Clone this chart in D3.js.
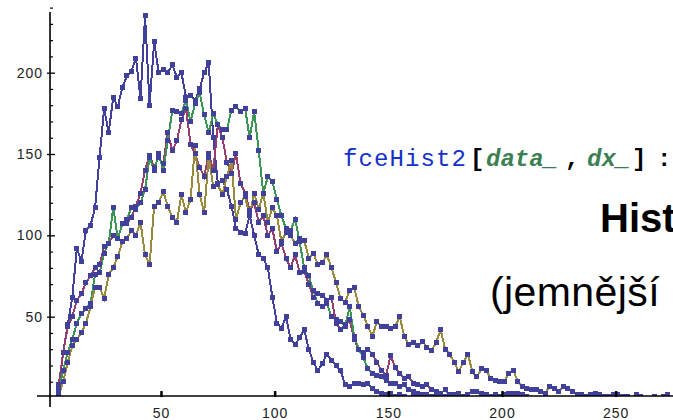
<!DOCTYPE html>
<html><head><meta charset="utf-8">
<script src="https://cdn.jsdelivr.net/npm/d3@7"></script>
<style>html,body{margin:0;padding:0;background:#fff}svg{display:block}</style>
</head><body>
<script>
// bin positions (x) and histogram counts
const binX = d3.range(5, 274, 2);
const seriesBlue = [
  6,28,45,62,92,84,103,106,117,148,
  178,163,185,179,191,198,201,209,184,235,
  180,219,200,202,200,205,197,200,185,186,
  183,190,200,206,160,132,134,128,118,104,
  102,101,112,100,88,86,80,62,46,43,
  50,36,33,37,42,30,22,17,21,27,
  23,20,17,8,7,9,9,8,9,6,
  4,3,2,3,1,2,1,0,1,0,
  0,1,0,0,0,1,0,0,0,0,
  0,0,0,0,0,0,0,0,0,0,
  0,0,0,0,0,0,0,0,0,0,
  0,0,0,0,0,0,0,0,0,0,
  0,0,0,0,0,0,0,0,0,0,
  0,0,0,0,0];
const seriesPurple = [
  8,28,44,50,60,64,71,75,80,82,
  93,95,100,98,107,107,111,118,126,140,
  149,142,148,144,163,152,158,171,178,156,
  150,142,136,150,140,168,160,145,138,150,
  132,126,115,120,108,112,100,104,90,95,
  86,80,88,77,78,70,62,64,63,60,
  62,46,42,45,48,36,30,28,30,27,
  22,17,14,26,19,15,12,13,9,8,
  7,8,5,4,3,5,2,2,3,1,
  2,4,4,3,2,1,2,1,2,3,
  3,3,2,1,0,0,0,0,0,0,
  0,0,0,0,0,0,0,0,0,0,
  0,0,0,0,0,0,0,0,0,0,
  0,0,0,0,0];
const seriesGreen = [
  4,17,28,36,46,52,55,58,76,77,
  89,95,117,98,107,110,117,116,120,128,
  148,140,150,140,158,177,176,175,183,170,
  181,188,174,163,175,168,165,165,177,179,
  176,178,160,176,152,126,136,133,122,112,
  104,103,110,96,80,75,66,58,56,58,
  50,48,47,44,56,38,30,25,18,15,
  14,13,11,9,9,7,8,5,4,3,
  2,2,1,1,0,0,0,1,0,0,
  0,0,0,0,0,0,0,0,0,0,
  0,0,0,0,0,0,0,0,0,0,
  0,0,0,0,0,0,0,0,0,0,
  0,0,0,0,0,0,0,0,0,0,
  0,0,0,0,0];
const seriesOlive = [
  2,10,22,32,36,40,46,56,68,68,
  61,76,80,87,96,98,103,100,108,88,
  82,118,120,127,118,111,108,125,114,122,
  155,125,114,148,130,131,125,136,146,110,
  120,124,112,126,116,126,108,117,112,96,
  102,100,95,98,97,86,89,82,83,88,
  80,71,61,59,66,68,56,51,44,38,
  47,44,44,43,44,50,38,33,34,32,
  35,31,29,34,42,30,27,22,16,22,
  27,16,13,18,17,12,11,10,10,15,
  17,10,7,6,5,5,4,3,7,6,
  4,7,6,4,2,2,1,2,3,2,
  1,1,2,2,1,1,0,2,1,0,
  0,1,0,1,2];
const yTicks = [50, 100, 150, 200];
const yMinor = [10,20,30,40,60,70,80,90,110,120,130,140,160,170,180,190,210,220,230,240,250];
const xTicks = [50, 100, 150, 200, 250];

const W = 673, H = 420;
const svg = d3.select("body").append("svg").attr("width", W).attr("height", H);

const x = d3.scaleLinear().domain([0, 275]).range([47.3, 672.5]);
const y = d3.scaleLinear().domain([0, 250]).range([398, 398 - 250 * 1.62667]);

const axX = x(1.2), axY = y(1.2);

svg.append("defs").append("clipPath").attr("id", "clip")
  .append("rect").attr("x", 0).attr("y", 0).attr("width", W).attr("height", axY);

const plot = svg.append("g").attr("clip-path", "url(#clip)").attr("shape-rendering", "crispEdges");
const line = d3.line().x((d, i) => x(binX[i])).y(d => y(d));

const blue = "#41419c";
const sets = [
  {data: seriesBlue, color: blue},
  {data: seriesPurple, color: "#983e6e"},
  {data: seriesGreen, color: "#3b9656"},
  {data: seriesOlive, color: "#9a8a3c"}
];
sets.forEach(s => {
  plot.append("path").datum(s.data).attr("d", line)
    .attr("fill", "none").attr("stroke", s.color).attr("stroke-width", 2);
});
sets.forEach(s => {
  plot.append("g").selectAll("rect").data(s.data).join("rect")
    .attr("x", (d, i) => Math.round(x(binX[i]) - 2.5)).attr("y", d => Math.round(y(d) - 2.5))
    .attr("width", 5).attr("height", 5).attr("fill", blue);
});

// axes lines
svg.append("line").attr("x1", axX).attr("x2", axX).attr("y1", 12).attr("y2", 407)
  .attr("stroke", "#000").attr("stroke-width", 1.6);
svg.append("line").attr("x1", 37).attr("x2", W).attr("y1", axY).attr("y2", axY)
  .attr("stroke", "#000").attr("stroke-width", 1.6);

// y axis ticks
const gy = svg.append("g").attr("transform", `translate(${axX},0)`)
  .call(d3.axisLeft(y).tickValues(yTicks).tickSize(-5).tickPadding(7).tickFormat(d3.format("d")));
gy.select(".domain").remove();
gy.selectAll(".tick line").attr("x1", -3).attr("x2", 5).attr("stroke", "#000").attr("stroke-width", 1.3);
gy.selectAll(".tick text").attr("font-family", "Liberation Sans, Arial, sans-serif")
  .attr("font-size", 14).attr("letter-spacing", 1).attr("fill", "#222");
const gym = svg.append("g").attr("transform", `translate(${axX},0)`)
  .call(d3.axisLeft(y).tickValues(yMinor).tickSize(-3).tickFormat(""));
gym.select(".domain").remove();
gym.selectAll(".tick line").attr("stroke", "#000").attr("stroke-width", 1.2);

// x axis ticks
const gx = svg.append("g").attr("transform", `translate(0,${axY})`)
  .call(d3.axisBottom(x).tickValues(xTicks).tickSize(-5).tickPadding(12).tickFormat(d3.format("d")));
gx.select(".domain").remove();
gx.selectAll(".tick line").attr("y1", 1).attr("y2", -5).attr("stroke", "#000").attr("stroke-width", 2.5);
gx.selectAll(".tick text").attr("font-family", "Liberation Sans, Arial, sans-serif")
  .attr("font-size", 14).attr("letter-spacing", 1).attr("fill", "#222");

// overlaid slide text
const mono = "Liberation Mono, DejaVu Sans Mono, monospace";
const t = svg.append("g").attr("font-family", mono).attr("font-size", 24);
t.append("text").attr("x", 343).attr("y", 166).attr("fill", "#1230cc").attr("letter-spacing", 1.1).text("fceHist2");
t.append("text").attr("x", 470).attr("y", 166).attr("fill", "#000").attr("font-weight", "bold").text("[");
t.append("text").attr("x", 486).attr("y", 166).attr("fill", "#3c7f52").attr("font-weight", "bold").attr("font-style", "italic").text("data_");
t.append("text").attr("x", 565).attr("y", 166).attr("fill", "#000").attr("font-weight", "bold").text(",");
t.append("text").attr("x", 587).attr("y", 166).attr("fill", "#3c7f52").attr("font-weight", "bold").attr("font-style", "italic").text("dx_");
t.append("text").attr("x", 632).attr("y", 166).attr("fill", "#000").attr("font-weight", "bold").text("]");
t.append("text").attr("x", 657).attr("y", 166).attr("fill", "#000").attr("font-weight", "bold").text(":");

svg.append("text").attr("x", 600).attr("y", 232).attr("font-family", "Liberation Sans, Arial, sans-serif")
  .attr("font-size", 40).attr("font-weight", "bold").attr("fill", "#000").text("Hist");
svg.append("text").attr("x", 490).attr("y", 306).attr("font-family", "Liberation Sans, Arial, sans-serif")
  .attr("font-size", 41).attr("letter-spacing", 0.4).attr("fill", "#000").text("(jemnější");
</script>
</body></html>
